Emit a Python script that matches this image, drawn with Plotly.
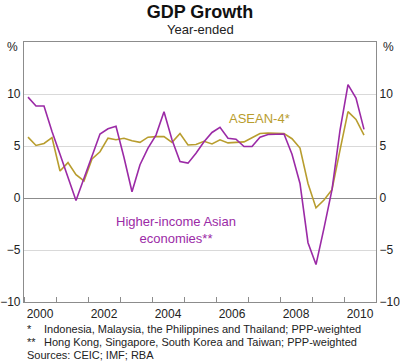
import plotly.graph_objects as go

# Quarterly data, Mar-2000 to Sep-2010 (year-ended % growth)
quarters = [f"{2000 + i // 4}Q{i % 4 + 1}" for i in range(43)]
higher_income = [9.7, 8.85, 8.85, 6.4, 4.2, 2.0, -0.25, 1.9, 4.0, 6.15,
                 6.65, 6.9, 3.9, 0.6, 3.2, 4.8, 6.05, 8.3, 5.6, 3.5,
                 3.35, 4.3, 5.4, 6.3, 6.8, 5.75, 5.65, 4.95, 4.95, 5.85,
                 6.1, 6.1, 6.15, 4.2, 1.4, -4.3, -6.4, -2.9, 0.8, 6.5,
                 10.9, 9.6, 6.6]
asean4 = [5.85, 5.05, 5.25, 5.8, 2.6, 3.4, 2.25, 1.65, 3.75, 4.45,
          5.75, 5.6, 5.75, 5.5, 5.35, 5.85, 5.9, 5.9, 5.35, 6.2,
          5.1, 5.15, 5.45, 5.2, 5.6, 5.3, 5.35, 5.4, 5.8, 6.2,
          6.25, 6.2, 6.2, 5.7, 4.8, 1.4, -0.95, -0.2, 0.8, 4.6,
          8.3, 7.55, 6.05]
year_labels = ["2000", "2002", "2004", "2006", "2008", "2010"]
y_ticks = [-10, -5, 0, 5, 10]

# x position: decimal year at mid-quarter
def qpos(q):
    y, n = q.split("Q")
    return int(y) + (int(n) - 1) * 0.25 + 0.125

xs = [qpos(q) for q in quarters]
label_pos = [int(y) + 0.5 for y in year_labels]

PURPLE = "#9b2aa6"
GOLD = "#b89d2e"
FONT = "Arial, Liberation Sans, sans-serif"

fig = go.Figure()
fig.add_trace(go.Scatter(x=xs, y=asean4, mode="lines",
                         line=dict(color=GOLD, width=1.6), hoverinfo="skip"))
fig.add_trace(go.Scatter(x=xs, y=higher_income, mode="lines",
                         line=dict(color=PURPLE, width=1.6), hoverinfo="skip"))
fig.add_trace(go.Scatter(x=[xs[0]], y=[asean4[0]], yaxis="y2", mode="lines",
                         line=dict(color="rgba(0,0,0,0)"), hoverinfo="skip"))

axis_common = dict(range=[-10, 15], tickvals=y_ticks, ticks="",
                   tickfont=dict(family=FONT, size=12, color="#222"),
                   showline=True, linecolor="#8c8c8c", linewidth=1.2,
                   fixedrange=True, automargin=False)

fig.update_layout(
    width=400, height=363,
    margin=dict(l=24, r=24, t=42, b=61),
    plot_bgcolor="white", paper_bgcolor="white",
    showlegend=False,
    font=dict(family=FONT, color="#222"),
    title=dict(text="<b>GDP Growth</b>", x=0.5, xanchor="center",
               y=1 - 12 / 363, yanchor="middle", automargin=False,
               font=dict(family=FONT, size=18, color="#111")),
    xaxis=dict(range=[2000, 2011], tickvals=label_pos, ticktext=year_labels,
               ticks="", showgrid=False, zeroline=False, automargin=False,
               showline=True, mirror=True, linecolor="#8c8c8c", linewidth=1.2,
               tickfont=dict(family=FONT, size=12, color="#222"),
               minor=dict(tick0=2000, dtick=1, ticks="inside", ticklen=5,
                          tickcolor="#8c8c8c", showgrid=False),
               fixedrange=True),
    yaxis=dict(**axis_common, side="left", showgrid=True, gridcolor="#d9d9d9",
               gridwidth=1, zeroline=True, zerolinecolor="#8c8c8c",
               zerolinewidth=1.2),
    yaxis2=dict(**axis_common, side="right", overlaying="y", showgrid=False,
                zeroline=False),
)

ann = []
ann.append(dict(text="Year-ended", x=0.5, y=(302 - 30) / 260, xref="paper",
                yref="paper", xanchor="center", yanchor="middle",
                showarrow=False, font=dict(family=FONT, size=13, color="#222")))
for xp in [(12 - 24) / 352, (388 - 24) / 352]:
    ann.append(dict(text="%", x=xp, y=(302 - 47) / 260, xref="paper", yref="paper",
                    xanchor="center", yanchor="middle", showarrow=False,
                    font=dict(family=FONT, size=12, color="#222")))
ann.append(dict(text="ASEAN-4*", x=2007.37, y=7.6, xref="x", yref="y",
                showarrow=False, xanchor="center", yanchor="middle",
                font=dict(family=FONT, size=13, color=GOLD)))
ann.append(dict(text="Higher-income Asian<br>economies**", x=2004.75, y=-3.1,
                xref="x", yref="y", showarrow=False, xanchor="center",
                yanchor="middle", align="center",
                font=dict(family=FONT, size=13, color=PURPLE)))
foot = [("*", "Indonesia, Malaysia, the Philippines and Thailand; PPP-weighted", 329),
        ("**", "Hong Kong, Singapore, South Korea and Taiwan; PPP-weighted", 342)]
for mark, txt, ypx in foot:
    ann.append(dict(text=mark, x=(25 - 24) / 352, y=(302 - ypx) / 260, xref="paper",
                    yref="paper", xanchor="left", yanchor="middle", showarrow=False,
                    font=dict(family=FONT, size=11, color="#222")))
    ann.append(dict(text=txt, x=(42 - 24) / 352, y=(302 - ypx) / 260, xref="paper",
                    yref="paper", xanchor="left", yanchor="middle", showarrow=False,
                    font=dict(family=FONT, size=11, color="#222")))
ann.append(dict(text="Sources: CEIC; IMF; RBA", x=(25 - 24) / 352, y=(302 - 355) / 260,
                xref="paper", yref="paper", xanchor="left", yanchor="middle",
                showarrow=False, font=dict(family=FONT, size=11, color="#222")))
fig.update_layout(annotations=ann)

# remove the browser's default 8px body margin so the figure sits at the window origin
fig.write_html("out.html", config={"displayModeBar": False},
               post_script="document.body.style.margin='0px';")
